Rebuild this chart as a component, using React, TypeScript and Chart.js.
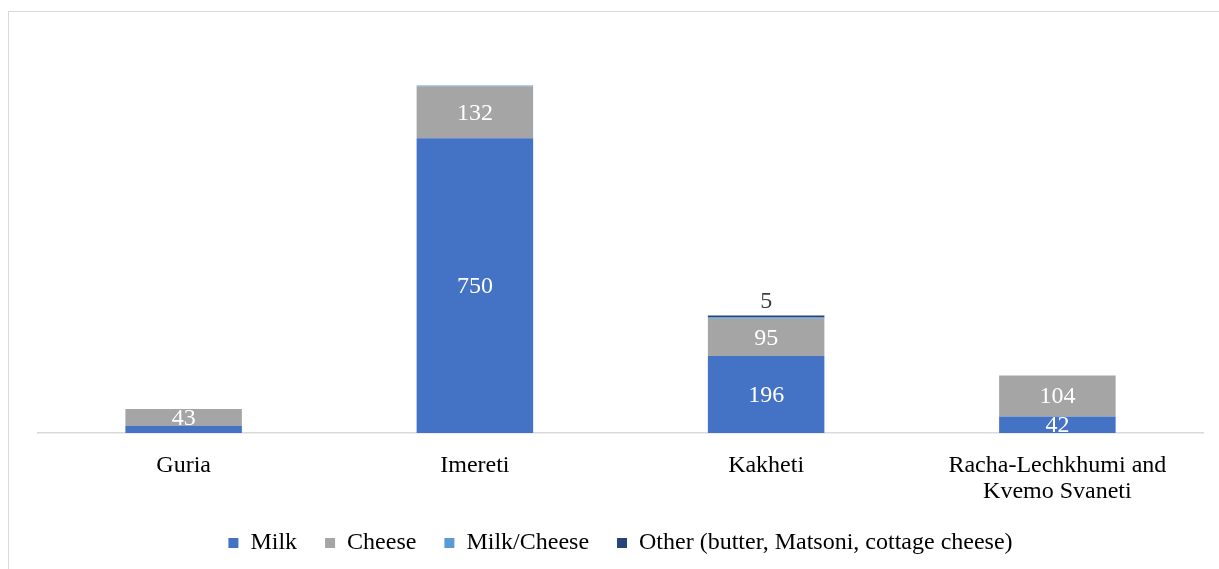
import React, { useEffect, useRef } from "react";
import { Chart, registerables } from "chart.js";

Chart.register(...registerables);

const categories: (string | string[])[] = [
  "Guria",
  "Imereti",
  "Kakheti",
  ["Racha-Lechkhumi and", "Kvemo Svaneti"],
];
const seriesNames = ["Milk", "Cheese", "Milk/Cheese", "Other (butter, Matsoni, cottage cheese)"];
const milk = [18, 750, 196, 42];
const cheese = [43, 132, 95, 104];
const milkCheese = [0, 2, 3, 0];
const other = [0, 0, 5, 0];
// label placement per series: "in" = inside segment, "above" = above bar, "" = none
const milkLabels = ["", "in", "in", "in"];
const cheeseLabels = ["in", "in", "in", "in"];
const milkCheeseLabels = ["", "", "", ""];
const otherLabels = ["", "", "above", ""];
const colors = ["#4472C4", "#A5A5A5", "#5B9BD5", "#264478"];

const FONT = "'Liberation Serif', 'Times New Roman', serif";

const labelPlugin = {
  id: "segLabels",
  afterDatasetsDraw(chart: any) {
    const ctx = chart.ctx;
    const modes = [milkLabels, cheeseLabels, milkCheeseLabels, otherLabels];
    ctx.save();
    ctx.font = `24px ${FONT}`;
    ctx.textAlign = "center";
    ctx.textBaseline = "middle";
    chart.data.datasets.forEach((ds: any, i: number) => {
      const meta = chart.getDatasetMeta(i);
      meta.data.forEach((el: any, j: number) => {
        const mode = modes[i][j];
        if (!mode) return;
        const { x, y, base } = el.getProps(["x", "y", "base"], true);
        const v = String(ds.data[j]);
        if (mode === "in") {
          ctx.fillStyle = "#FFFFFF";
          ctx.fillText(v, x, (y + base) / 2 + 1);
        } else {
          ctx.fillStyle = "#404040";
          ctx.fillText(v, x, y - 14);
        }
      });
    });
    ctx.restore();
  },
};

export default function App() {
  const ref = useRef<HTMLCanvasElement | null>(null);
  useEffect(() => {
    if (!ref.current) return;
    const data = [milk, cheese, milkCheese, other];
    const chart = new Chart(ref.current, {
      type: "bar",
      data: {
        labels: categories as any,
        datasets: data.map((d, i) => ({
          label: seriesNames[i],
          data: d,
          backgroundColor: colors[i],
          borderColor: colors[i],
          borderWidth: 0,
          categoryPercentage: 1,
          barPercentage: 0.4,
        })),
      },
      options: {
        animation: false,
        responsive: true,
        maintainAspectRatio: false,
        layout: { padding: { left: 29, right: 16, top: 28, bottom: 4 } },
        scales: {
          x: {
            stacked: true,
            grid: { display: false, drawTicks: false },
            border: { display: true, color: "#D9D9D9", width: 1.5 },
            ticks: {
              padding: 20,
              color: "#000000",
              font: { family: FONT, size: 24, lineHeight: 1.08 },
              maxRotation: 0,
              autoSkip: false,
            },
            afterFit: (s: any) => {
              s.height = 70;
            },
          },
          y: {
            stacked: true,
            display: false,
            min: 0,
            max: 1000,
          },
        },
        plugins: {
          legend: {
            position: "bottom",
            labels: {
              boxWidth: 10,
              boxHeight: 10,
              padding: 28,
              color: "#000000",
              font: { family: FONT, size: 24 },
            },
          },
          tooltip: { enabled: false },
        },
      },
      plugins: [labelPlugin],
    });
    return () => chart.destroy();
  }, []);
  return (
    <div
      style={{
        position: "fixed",
        left: 8,
        top: 11,
        width: 1211,
        height: 558,
        borderTop: "1px solid #D9D9D9",
        borderLeft: "1px solid #D9D9D9",
        boxSizing: "border-box",
        background: "#FFFFFF",
      }}
    >
      <div style={{ position: "relative", width: 1210, height: 557 }}>
        <canvas ref={ref} />
      </div>
    </div>
  );
}
